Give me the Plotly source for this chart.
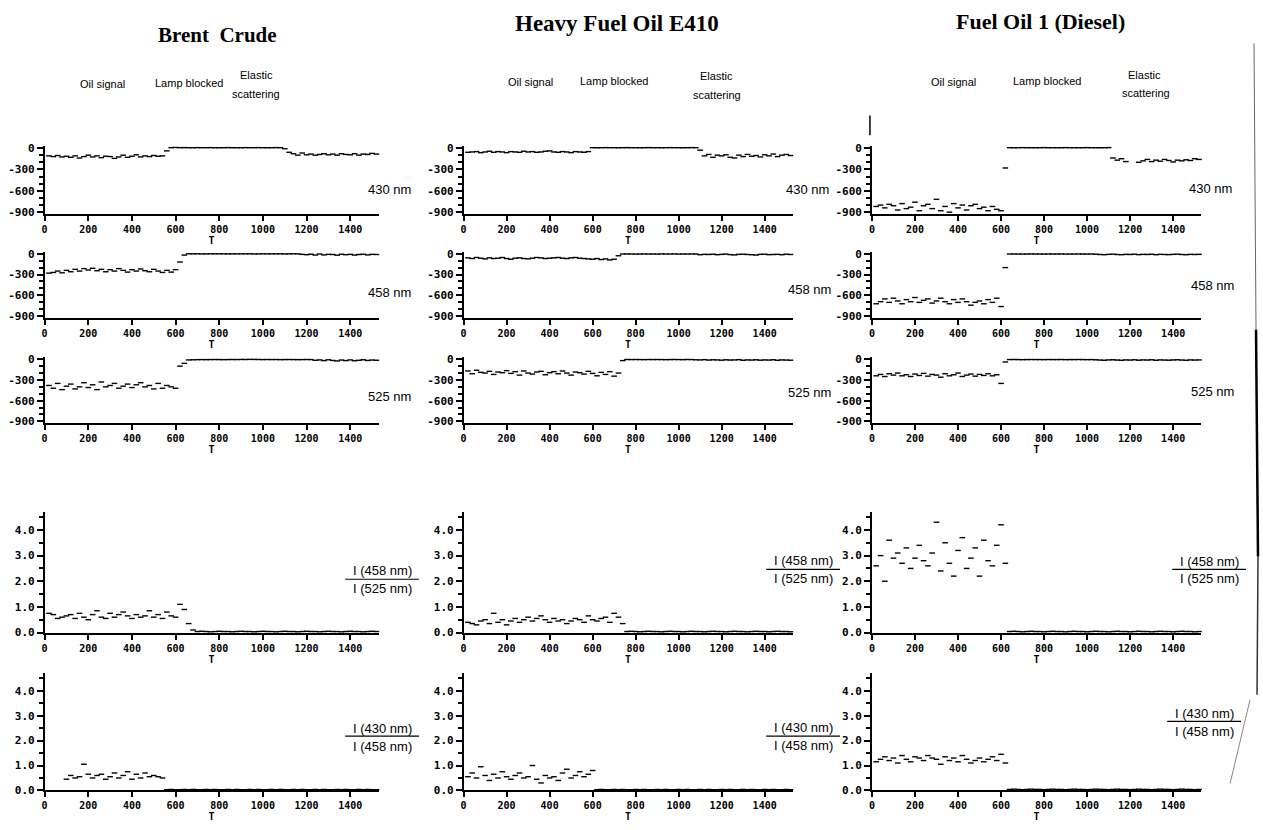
import plotly.graph_objects as go

W, H = 1263, 830


def px(x):
    return x / W


def py(y):
    return 1 - y / H


# ---------------- data ----------------
T = list(range(20, 1521, 20))  # sample times (76)

titles = ["Brent  Crude", "Heavy Fuel Oil E410", "Fuel Oil 1 (Diesel)"]
wavelength_labels = ["430 nm", "458 nm", "525 nm"]
ratio_labels = [("I (458 nm)", "I (525 nm)"), ("I (430 nm)", "I (458 nm)")]
phase_labels = ["Oil signal", "Lamp blocked", "Elastic", "scattering"]

x_tickvals = [0, 200, 400, 600, 800, 1000, 1200, 1400]
x_ticktext = ["0", "200", "400", "600", "800", "1000", "1200", "1400"]
int_tickvals = [0, -300, -600, -900]
int_ticktext = ["0", "-300", "-600", "-900"]
int_minor = [-100, -200, -400, -500, -700, -800]
ratio_tickvals = [0, 1, 2, 3, 4]
ratio_ticktext = ["0.0", "1.0", "2.0", "3.0", "4.0"]
ratio_minor = [0.5, 1.5, 2.5, 3.5, 4.5]

# Brent Crude
brent_430 = ([-110, -120, -105, -125, -115, -130, -110, -140, -120, -100,
              -125, -110, -135, -115, -120, -145, -125, -100, -130, -115,
              -95, -125, -110, -120, -105, -115, -110]
             + [-40, 5, 8]
             + [5, 6, 5, 4, 6, 5, 5, 6, 4, 5, 5, 6, 5, 5, 4, 6, 5, 5, 6, 5, 4, 5, 6, 5]
             + [-10, -60, -80, -100, -70]
             + [-95, -85, -100, -90, -80, -95, -85, -100, -80, -90, -95, -80,
                -100, -85, -90, -75, -85])
brent_458 = ([-280, -270, -250, -275, -240, -260, -225, -250, -215, -235,
              -210, -245, -225, -260, -230, -250, -215, -240, -265, -230,
              -250, -220, -245, -260, -225, -250, -270, -240, -265, -230]
             + [-120, -20]
             + [-2, -3, -2, -4, -3, -2, -3, -2, -3, -4, -2, -3, -2, -3, -2, -4,
                -3, -2, -3, -2, -3, -2, -4, -3, -2, -3]
             + [-10, -15, -8, -20, -5, -18, -10, -12, -22, -8, -15, -10, -20,
                -12, -8, -18, -10, -12])
brent_525 = ([-380, -420, -350, -440, -390, -360, -430, -400, -340, -410,
              -370, -440, -330, -400, -380, -350, -420, -390, -360, -410,
              -370, -340, -400, -380, -430, -350, -420, -380, -400, -420]
             + [-100, -60]
             + [-10, -8, -6, -5, -6, -5, -4, -5, -6, -5, -4, -5, -3, -4, -2,
                -3, -4, -5, -4, -5, -4, -6, -5, -4, -5, -6, -5, -4, -5]
             + [-15, -10, -20, -8, -18, -25, -12, -20, -10, -22, -15, -8, -18,
                -12, -15])
brent_r458_525 = ([0.75, 0.7, 0.55, 0.6, 0.65, 0.7, 0.55, 0.75, 0.6, 0.5,
                   0.7, 0.85, 0.6, 0.55, 0.75, 0.6, 0.7, 0.8, 0.65, 0.55,
                   0.7, 0.6, 0.65, 0.85, 0.6, 0.7, 0.55, 0.8, 0.65, 0.6]
                  + [1.1, 0.9, 0.35, 0.1]
                  + [0.04, 0.05, 0.04, 0.03, 0.04, 0.05, 0.04, 0.04, 0.03, 0.04,
                     0.05, 0.04, 0.04, 0.03, 0.04, 0.05, 0.04, 0.04, 0.03, 0.04,
                     0.05, 0.04, 0.04, 0.03, 0.04, 0.05, 0.04, 0.04, 0.03, 0.04,
                     0.05, 0.04, 0.04, 0.03, 0.04, 0.05, 0.04, 0.04, 0.03, 0.04,
                     0.05, 0.04])
brent_r430_458 = ([None, None, None, None]
                  + [0.45, 0.6, 0.5, 0.55, 1.05, 0.65, 0.5, 0.6, 0.65, 0.45,
                     0.55, 0.7, 0.5, 0.6, 0.75, 0.45, 0.65, 0.5, 0.7, 0.55,
                     0.6, 0.55, 0.5]
                  + [0.03, 0.04, 0.03, 0.03, 0.04, 0.03, 0.04, 0.03, 0.03, 0.04,
                     0.03, 0.04, 0.03, 0.03, 0.04, 0.03, 0.04, 0.03, 0.03, 0.04,
                     0.03, 0.04, 0.03, 0.03, 0.04, 0.03, 0.04, 0.03, 0.03, 0.04,
                     0.03, 0.04, 0.03, 0.03, 0.04, 0.03, 0.04, 0.03, 0.03, 0.04,
                     0.03, 0.04, 0.03, 0.03, 0.04, 0.03, 0.04, 0.03, 0.03])

# Heavy Fuel Oil E410
hfo_430 = ([-60, -55, -50, -65, -55, -45, -60, -50, -55, -65,
            -50, -55, -60, -45, -55, -50, -60, -55, -45, -40,
            -55, -60, -50, -55, -65, -50, -55, -60, -50]
           + [5, 4, 5, 6, 5, 5, 4, 5, 6, 5, 5, 4, 5, 6, 5, 5, 4, 5, 6, 5, 5, 4, 5, 6, 5]
           + [-30, -110, -90, -130, -100]
           + [-110, -95, -130, -140, -100, -120, -90, -115, -105, -125, -95,
              -110, -85, -120, -100, -90, -105])
hfo_458 = ([-60, -70, -55, -65, -75, -60, -70, -65, -55, -70,
            -80, -65, -60, -70, -75, -65, -55, -60, -70, -65,
            -60, -55, -65, -70, -60, -55, -65, -70, -75, -80,
            -70, -85, -75, -90, -80]
           + [-30]
           + [-5, -4, -5, -6, -5, -4, -5, -5, -6, -4, -5, -5, -4, -6, -5, -5,
              -4, -5, -15, -10, -12, -8, -15, -10, -6, -14, -18, -10, -8, -12,
              -15, -20, -10, -8, -14, -12, -10, -15, -8, -12])
hfo_525 = ([-170, -210, -160, -190, -200, -175, -220, -185, -195, -165,
            -205, -180, -230, -170, -200, -215, -185, -175, -225, -195,
            -180, -210, -170, -200, -230, -185, -195, -215, -175, -205,
            -240, -190, -220, -180, -245, -200]
           + [-20]
           + [-4, -5, -4, -5, -6, -4, -5, -4, -5, -6, -5, -4, -5, -6, -4, -5,
              -8, -10, -6, -12, -8, -10, -14, -8, -12, -10, -6, -15, -10, -12,
              -8, -14, -10, -12, -8, -15, -10, -12, -14])
hfo_r458_525 = ([0.4, 0.35, 0.3, 0.45, 0.5, 0.35, 0.75, 0.4, 0.5, 0.3,
                 0.45, 0.55, 0.4, 0.5, 0.6, 0.45, 0.55, 0.65, 0.5, 0.4,
                 0.55, 0.45, 0.5, 0.35, 0.45, 0.55, 0.5, 0.4, 0.65, 0.5,
                 0.45, 0.55, 0.6, 0.4, 0.75, 0.6, 0.35]
                + [0.04, 0.05, 0.04, 0.03, 0.04, 0.05, 0.04, 0.04, 0.03, 0.04,
                   0.05, 0.04, 0.04, 0.03, 0.04, 0.05, 0.04, 0.04, 0.03, 0.04,
                   0.05, 0.04, 0.04, 0.03, 0.04, 0.05, 0.04, 0.04, 0.03, 0.04,
                   0.05, 0.04, 0.04, 0.03, 0.04, 0.05, 0.04, 0.04, 0.03])
hfo_r430_458 = ([0.55, 0.7, 0.5, 0.95, 0.6, 0.4, 0.65, 0.5, 0.75, 0.55,
                 0.45, 0.6, 0.7, 0.5, 0.55, 1.0, 0.45, 0.3, 0.6, 0.5,
                 0.55, 0.4, 0.7, 0.85, 0.5, 0.6, 0.75, 0.55, 0.65, 0.8]
                + [0.03, 0.04, 0.03, 0.03, 0.04, 0.03, 0.04, 0.03, 0.03, 0.04,
                   0.03, 0.04, 0.03, 0.03, 0.04, 0.03, 0.04, 0.03, 0.03, 0.04,
                   0.03, 0.04, 0.03, 0.03, 0.04, 0.03, 0.04, 0.03, 0.03, 0.04,
                   0.03, 0.04, 0.03, 0.03, 0.04, 0.03, 0.04, 0.03, 0.03, 0.04,
                   0.03, 0.04, 0.03, 0.03, 0.04, 0.03])

# Fuel Oil 1 (Diesel)
diesel_430 = ([-820, -800, -840, -790, -810, -870, -780, -850, -830, -760,
               -880, -810, -790, -850, -720, -880, -820, -900, -780, -840,
               -800, -870, -810, -790, -850, -830, -880, -820, -860, -880]
              + [-280]
              + [5, 4, 5, 6, 5, 5, 4, 5, 6, 5, 5, 4, 5, 6, 5, 5, 4, 5, 6, 5, 5, 4, 5, 6]
              + [-140, -170, -150, -190]
              + [None, None]
              + [-200]
              + [-180, -160, -190, -170, -185, -160, -175, -195, -170, -180,
                 -165, -175, -150, -160])
diesel_458 = ([-720, -690, -650, -700, -640, -680, -720, -660, -690, -630,
               -700, -670, -650, -710, -680, -640, -690, -720, -660, -700,
               -650, -690, -740, -700, -680, -720, -660, -700, -640, -760]
              + [-200]
              + [-5, -4, -5, -6, -5, -4, -5, -5, -6, -4, -5, -5, -4, -6, -5,
                 -5, -4, -5, -6, -5, -8, -12, -15, -10, -8, -12, -15, -10, -12,
                 -8, -14, -10, -12, -8, -15, -10, -12, -14, -10, -8, -12, -15,
                 -10, -12, -10])
diesel_525 = ([-240, -220, -250, -210, -230, -200, -240, -225, -250, -215,
               -235, -205, -245, -220, -230, -260, -210, -240, -225, -200,
               -250, -230, -215, -245, -220, -235, -210, -240, -225]
              + [-350, -40]
              + [-5, -4, -5, -6, -5, -4, -5, -5, -6, -4, -5, -5, -4, -6, -5,
                 -5, -4, -5, -6, -5, -8, -12, -15, -10, -8, -12, -15, -10, -12,
                 -8, -14, -10, -12, -8, -15, -10, -12, -14, -10, -8, -12, -15,
                 -10, -12, -10])
diesel_r458_525 = ([2.6, 3.0, 2.0, 3.6, 2.9, 3.1, 2.7, 3.3, 2.5, 2.9,
                    3.4, 2.8, 2.6, 3.1, 4.3, 2.4, 3.5, 2.7, 2.2, 3.2,
                    3.7, 2.5, 2.9, 3.3, 2.2, 3.6, 2.8, 2.6, 3.4, 4.2, 2.7]
                   + [0.04, 0.05, 0.04, 0.03, 0.04, 0.05, 0.04, 0.04, 0.03, 0.04,
                      0.05, 0.04, 0.04, 0.03, 0.04, 0.05, 0.04, 0.04, 0.03, 0.04,
                      0.05, 0.04, 0.04, 0.03, 0.04, 0.05, 0.04, 0.04, 0.03, 0.04,
                      0.05, 0.04, 0.04, 0.03, 0.04, 0.05, 0.04, 0.04, 0.03, 0.04,
                      0.05, 0.04, 0.04, 0.03, 0.04])
diesel_r430_458 = ([1.15, 1.25, 1.35, 1.2, 1.3, 1.1, 1.4, 1.25, 1.15, 1.35,
                    1.3, 1.2, 1.4, 1.3, 1.25, 1.05, 1.35, 1.2, 1.3, 1.15,
                    1.4, 1.25, 1.1, 1.2, 1.3, 1.15, 1.25, 1.35, 1.2, 1.45, 1.1]
                   + [0.04, 0.05, 0.04, 0.03, 0.04, 0.05, 0.04, 0.04, 0.03, 0.04,
                      0.05, 0.04, 0.04, 0.03, 0.04, 0.05, 0.04, 0.04, 0.03, 0.04,
                      0.05, 0.04, 0.04, 0.03, 0.04, 0.05, 0.04, 0.04, 0.03, 0.04,
                      0.05, 0.04, 0.04, 0.03, 0.04, 0.05, 0.04, 0.04, 0.03, 0.04,
                      0.05, 0.04, 0.04, 0.03, 0.04])

columns = [
    [brent_430, brent_458, brent_525, brent_r458_525, brent_r430_458],
    [hfo_430, hfo_458, hfo_525, hfo_r458_525, hfo_r430_458],
    [diesel_430, diesel_458, diesel_525, diesel_r458_525, diesel_r430_458],
]
for col in columns:
    for s in col:
        assert len(s) == len(T), len(s)

# ---------------- layout geometry (pixels) ----------------
col_x = [(41.7, 376.5), (461.7, 791.5), (871, 1201)]
row_y = [(143.8, 212.4), (250.9, 317.9), (357.9, 424.4), (514.8, 637), (678.3, 797)]

tick_font = dict(family="DejaVu Sans Mono", size=11, color="black", weight="bold")
xtick_font = dict(family="DejaVu Sans Mono", size=10, color="black", weight="bold")

fig = go.Figure()
layout = dict(
    width=W, height=H, autosize=False,
    margin=dict(l=0, r=0, t=0, b=0),
    paper_bgcolor="white", plot_bgcolor="white",
    showlegend=False,
)

for c in range(3):
    for r in range(5):
        k = r * 3 + c + 1
        xname = "xaxis" if k == 1 else f"xaxis{k}"
        yname = "yaxis" if k == 1 else f"yaxis{k}"
        xref = "x" if k == 1 else f"x{k}"
        yref = "y" if k == 1 else f"y{k}"
        x0, x1 = col_x[c]
        yt, yb = row_y[r]
        layout[xname] = dict(
            domain=[px(x0), px(x1)], range=[0, 1530], anchor=yref,
            showline=True, linecolor="black", linewidth=2,
            ticks="outside", ticklen=5, tickwidth=1.5, tickcolor="black",
            tickmode="array", tickvals=x_tickvals, ticktext=x_ticktext,
            tickfont=xtick_font, showgrid=False, zeroline=False,
            title=dict(text="T", standoff=1, font=xtick_font),
        )
        if r < 3:
            yr = [-920, 30]
            tv, tt, mv = int_tickvals, int_ticktext, int_minor
        else:
            yr = [0, 4.7]
            tv, tt, mv = ratio_tickvals, ratio_ticktext, ratio_minor
        layout[yname] = dict(
            domain=[py(yb), py(yt)], range=yr, anchor=xref,
            showline=True, linecolor="black", linewidth=1.5,
            ticks="outside", ticklen=6, tickwidth=1.5, tickcolor="black",
            tickmode="array", tickvals=tv, ticktext=tt, tickfont=tick_font,
            showgrid=False, zeroline=False,
            minor=dict(ticks="outside", ticklen=4, tickwidth=1.5, tickcolor="black",
                       tickmode="array", tickvals=mv, showgrid=False),
        )
        fig.add_trace(go.Scatter(
            x=T, y=columns[c][r], mode="markers", xaxis=xref, yaxis=yref,
            marker=dict(symbol="line-ew", size=4, color="black",
                        line=dict(width=1.4, color="black")),
            hoverinfo="skip", showlegend=False, cliponaxis=False,
        ))

annotations = []
shapes = []


def text(x, y, s, size, family="Liberation Sans", weight="normal"):
    annotations.append(dict(
        xref="paper", yref="paper", x=px(x), y=py(y), text=s, showarrow=False,
        xanchor="center", yanchor="middle",
        font=dict(family=family, size=size, color="black", weight=weight)))


# titles
title_pos = [(215, 31), (615, 20), (1040, 18)]
title_sizes = [21, 23, 22]
for (x, y), s, fs in zip(title_pos, titles, title_sizes):
    text(x, y, s, fs, family="Liberation Serif", weight="bold")

# phase labels
phase_pos = [
    [(100, 81), (187, 80), (254, 72), (254, 91)],
    [(529, 79), (613, 78), (715, 73), (716, 92)],
    [(953, 79), (1047, 78), (1144, 72), (1146, 90)],
]
for col in phase_pos:
    for (x, y), s in zip(col, phase_labels):
        text(x, y, s, 11, family="Liberation Sans")

# wavelength labels
wl_pos = [
    [(387, 188), (387, 292), (387, 398)],
    [(806, 188), (808, 289), (808, 394)],
    [(1210, 187), (1212, 285), (1212, 393)],
]
for col in wl_pos:
    for (x, y), s in zip(col, wavelength_labels):
        text(x, y, s, 13)

# ratio labels with fraction bars
ratio_pos = [
    [(380, 574, 583, 592), (380, 734, 742, 752)],
    [(802, 564, 573, 582), (802, 733, 742, 751)],
    [(1209, 565, 573, 582), (1204, 719, 727, 737)],
]
for col in ratio_pos:
    for (x, yn, yl, yd), (num, den) in zip(col, ratio_labels):
        text(x, yn, num, 13)
        text(x, yd, den, 13)
        shapes.append(dict(type="line", xref="paper", yref="paper",
                           x0=px(x - 37), x1=px(x + 37), y0=py(yl), y1=py(yl),
                           line=dict(color="black", width=1.2)))

# scan artefacts (page edge)
for (xa, ya, xb, yb, w, colr) in [
    (1254, 40, 1256, 330, 1, "#666"),
    (1256, 330, 1258, 560, 2.5, "black"),
    (1258, 560, 1257, 700, 1.5, "#333"),
    (1250, 705, 1230, 790, 1, "#888"),
    (869, 113, 869, 133, 1.5, "black"),
]:
    shapes.append(dict(type="line", xref="paper", yref="paper",
                       x0=px(xa), y0=py(ya), x1=px(xb), y1=py(yb),
                       line=dict(color=colr, width=w)))

layout["annotations"] = annotations
layout["shapes"] = shapes
fig.update_layout(**layout)
fig.write_html("out.html")
